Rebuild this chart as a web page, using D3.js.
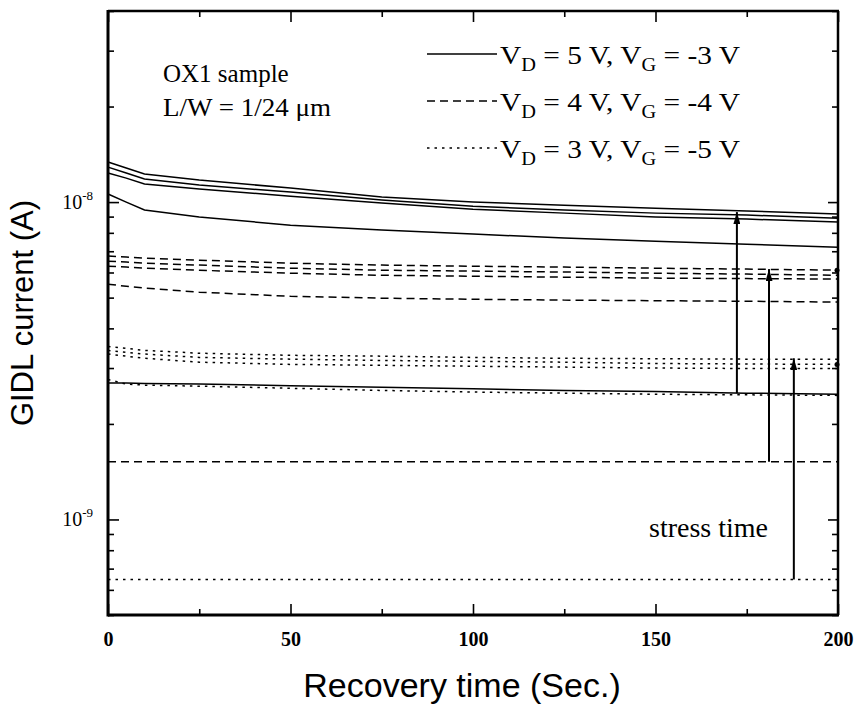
<!DOCTYPE html>
<html>
<head>
<meta charset="utf-8">
<script src="https://cdnjs.cloudflare.com/ajax/libs/d3/7.8.5/d3.min.js"></script>
<style>
  body { margin: 0; background: #fff; }
  .serif { font-family: "Liberation Serif", "DejaVu Serif", serif; }
  .sans { font-family: "Liberation Sans", Arial, sans-serif; }
  .tick line { stroke: #000; stroke-width: 1.6; }
</style>
</head>
<body>
<svg width="859" height="705"></svg>
<script>
// recovery time grid (Sec.)
var times = [0, 5, 10, 25, 50, 75, 100, 125, 150, 175, 200];

// GIDL current, units of 1e-9 A
// VD = 5 V, VG = -3 V (solid)
var solid1 = [13.37, 12.80, 12.26, 11.73, 11.07, 10.37, 10.00, 9.78, 9.57, 9.37, 9.17];
var solid2 = [12.89, 12.35, 11.82, 11.31, 10.75, 10.15, 9.71, 9.44, 9.23, 9.10, 8.90];
var solid3 = [12.35, 11.90, 11.40, 10.99, 10.44, 9.93, 9.50, 9.23, 8.97, 8.84, 8.65];
var solid4 = [10.60, 10.00, 9.44, 8.97, 8.46, 8.16, 7.93, 7.70, 7.53, 7.37, 7.21];
var solidFresh = [2.69, 2.69, 2.68, 2.67, 2.64, 2.61, 2.58, 2.55, 2.53, 2.50, 2.48];

// VD = 4 V, VG = -4 V (dashed)
var dash1 = [6.76, 6.71, 6.66, 6.56, 6.42, 6.33, 6.28, 6.24, 6.19, 6.15, 6.10];
var dash2 = [6.51, 6.47, 6.42, 6.33, 6.19, 6.10, 6.06, 6.02, 5.97, 5.93, 5.88];
var dash3 = [6.28, 6.24, 6.19, 6.10, 5.97, 5.88, 5.84, 5.80, 5.76, 5.74, 5.72];
var dash4 = [5.51, 5.43, 5.36, 5.20, 5.05, 4.98, 4.94, 4.91, 4.89, 4.87, 4.84];
var dashFresh = [1.52, 1.52, 1.52, 1.52, 1.52, 1.52, 1.52, 1.52, 1.52, 1.52, 1.52];

// VD = 3 V, VG = -5 V (dotted)
var dot1 = [3.51, 3.46, 3.41, 3.34, 3.29, 3.27, 3.24, 3.22, 3.21, 3.20, 3.20];
var dot2 = [3.41, 3.36, 3.32, 3.24, 3.20, 3.17, 3.15, 3.13, 3.10, 3.09, 3.08];
var dot3 = [3.32, 3.27, 3.22, 3.13, 3.08, 3.06, 3.04, 3.02, 3.00, 2.99, 2.99];
var dot4 = [2.76, 2.67, 2.65, 2.63, 2.59, 2.55, 2.52, 2.50, 2.48, 2.47, 2.46];
var dotFresh = [0.647, 0.647, 0.647, 0.647, 0.647, 0.647, 0.647, 0.647, 0.647, 0.647, 0.647];

// stress time arrows
var arrowTimes = [172.3, 181.1, 187.9];
var arrowFrom = [2.50, 1.52, 0.647];
var arrowTo = [9.3, 6.15, 3.22];

var xTicks = [0, 50, 100, 150, 200];
var xMinor = [25, 75, 125, 175];
var yMajor = [1, 10];
var yExp = ["-9", "-8"];

var legendVD = ["5", "4", "3"];
var legendVG = ["-3", "-4", "-5"];

var styles = [null, "8,5", "2.5,5"];

var svg = d3.select("svg");
var mLeft = 108, mRight = 838, mTop = 11, mBottom = 615;

var x = d3.scaleLinear().domain([0, 200]).range([mLeft, mRight]);
var y = d3.scaleLog().domain([0.5, 40]).range([mBottom, mTop]);

var groups = [
  [solid1, solid2, solid3, solid4, solidFresh],
  [dash1, dash2, dash3, dash4, dashFresh],
  [dot1, dot2, dot3, dot4, dotFresh]
];

var line = d3.line()
  .x(function(d) { return x(d[0]); })
  .y(function(d) { return y(d[1]); });

var plot = svg.append("g");

groups.forEach(function(g, i) {
  g.forEach(function(vals) {
    plot.append("path")
      .datum(times.map(function(t, k) { return [t, vals[k]]; }))
      .attr("d", line)
      .attr("fill", "none")
      .attr("stroke", "#000")
      .attr("stroke-width", 1.5)
      .attr("stroke-dasharray", styles[i]);
  });
});

// end dots
[dash1, dot2].forEach(function(vals) {
  plot.append("circle")
    .attr("cx", x(times[times.length - 1]) - 1)
    .attr("cy", y(vals[vals.length - 1]))
    .attr("r", 2.5)
    .attr("fill", "#000");
});

// arrows
svg.append("defs").append("marker")
  .attr("id", "head")
  .attr("viewBox", "0 0 12 7")
  .attr("refX", 12).attr("refY", 3.5)
  .attr("markerWidth", 12).attr("markerHeight", 7)
  .attr("markerUnits", "userSpaceOnUse")
  .attr("orient", "auto")
  .append("path").attr("d", "M0,0 L12,3.5 L0,7 Z").attr("fill", "#000");

arrowTimes.forEach(function(t, i) {
  svg.append("line")
    .attr("x1", x(t)).attr("x2", x(t))
    .attr("y1", y(arrowFrom[i])).attr("y2", y(arrowTo[i]))
    .attr("stroke", "#000")
    .attr("stroke-width", 2)
    .attr("marker-end", "url(#head)");
});

// axes ticks
function noDomain(g) { g.select(".domain").remove(); }

svg.append("g").attr("transform", "translate(0," + mBottom + ")")
  .call(d3.axisBottom(x).tickValues(xTicks).tickSize(-11).tickPadding(17).tickFormat(d3.format("d")))
  .call(noDomain)
  .call(function(g) {
    g.attr("font-family", null).attr("font-size", null);
    g.selectAll("text").attr("class", "serif").attr("font-size", 20).attr("font-weight", "bold").attr("fill", "#000");
  });
svg.append("g").attr("transform", "translate(0," + mBottom + ")")
  .call(d3.axisBottom(x).tickValues(xMinor).tickSize(-6).tickFormat(""))
  .call(noDomain);
svg.append("g").attr("transform", "translate(0," + mTop + ")")
  .call(d3.axisTop(x).tickValues(xTicks).tickSize(-11).tickFormat(""))
  .call(noDomain);
svg.append("g").attr("transform", "translate(0," + mTop + ")")
  .call(d3.axisTop(x).tickValues(xMinor).tickSize(-6).tickFormat(""))
  .call(noDomain);

var yMinor = y.ticks().filter(function(v) { return yMajor.indexOf(v) < 0; });

svg.append("g").attr("transform", "translate(" + mLeft + ",0)")
  .call(d3.axisLeft(y).tickValues(yMajor).tickSize(-11).tickFormat(""))
  .call(noDomain);
svg.append("g").attr("transform", "translate(" + mLeft + ",0)")
  .call(d3.axisLeft(y).tickValues(yMinor).tickSize(-6).tickFormat(""))
  .call(noDomain);
svg.append("g").attr("transform", "translate(" + mRight + ",0)")
  .call(d3.axisRight(y).tickValues(yMajor).tickSize(-10).tickFormat(""))
  .call(noDomain);
svg.append("g").attr("transform", "translate(" + mRight + ",0)")
  .call(d3.axisRight(y).tickValues(yMinor).tickSize(-6).tickFormat(""))
  .call(noDomain);

// frame
svg.append("line").attr("x1", mLeft).attr("x2", mLeft).attr("y1", mTop - 1).attr("y2", mBottom + 1.5).attr("stroke", "#000").attr("stroke-width", 3);
svg.append("line").attr("x1", mLeft).attr("x2", mRight + 1).attr("y1", mBottom).attr("y2", mBottom).attr("stroke", "#000").attr("stroke-width", 3);
svg.append("line").attr("x1", mLeft).attr("x2", mRight + 1).attr("y1", mTop).attr("y2", mTop).attr("stroke", "#000").attr("stroke-width", 2.5);
svg.append("line").attr("x1", mRight).attr("x2", mRight).attr("y1", mTop).attr("y2", mBottom).attr("stroke", "#000").attr("stroke-width", 2.5);

// y tick labels
yMajor.forEach(function(v, i) {
  var t = svg.append("text").attr("class", "serif")
    .attr("x", 93).attr("y", y(v) + 7)
    .attr("text-anchor", "end")
    .attr("font-size", 20);
  t.append("tspan").text("10");
  t.append("tspan").attr("dy", -9).attr("font-size", 13).text(yExp[i]);
});

// axis titles
svg.append("text").attr("class", "sans")
  .attr("x", 462).attr("y", 697)
  .attr("text-anchor", "middle")
  .attr("font-size", 34)
  .text("Recovery time  (Sec.)");

svg.append("text").attr("class", "sans")
  .attr("transform", "translate(33," + ((mTop + mBottom) / 2) + ") rotate(-90)")
  .attr("text-anchor", "middle")
  .attr("font-size", 31)
  .text("GIDL current  (A)");

// annotations
svg.append("text").attr("class", "serif").attr("x", 163).attr("y", 82).attr("font-size", 25).text("OX1 sample");
svg.append("text").attr("class", "serif").attr("x", 163).attr("y", 116).attr("font-size", 25)
  .attr("textLength", 168).attr("lengthAdjust", "spacingAndGlyphs")
  .text("L/W = 1/24 \u03bcm");
svg.append("text").attr("class", "serif").attr("x", 649).attr("y", 537).attr("font-size", 28).text("stress time");

// legend
legendVD.forEach(function(vd, i) {
  var ly = 54 + i * 47;
  svg.append("line")
    .attr("x1", 427).attr("x2", 497)
    .attr("y1", ly).attr("y2", ly)
    .attr("stroke", "#000").attr("stroke-width", 1.5)
    .attr("stroke-dasharray", styles[i]);
  var t = svg.append("text").attr("class", "serif")
    .attr("x", 500).attr("y", ly + 10)
    .attr("font-size", 26)
    .attr("textLength", 240).attr("lengthAdjust", "spacingAndGlyphs");
  t.append("tspan").text("V");
  t.append("tspan").attr("dy", 7).attr("font-size", 18).text("D");
  t.append("tspan").attr("dy", -7).text(" = " + vd + " V, V");
  t.append("tspan").attr("dy", 7).attr("font-size", 18).text("G");
  t.append("tspan").attr("dy", -7).text(" = " + legendVG[i] + " V");
});
</script>
</body>
</html>
